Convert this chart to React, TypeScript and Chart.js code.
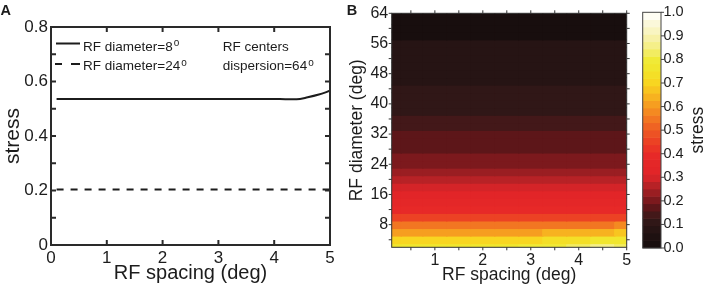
import React, { useEffect, useRef } from 'react';
import { Chart, registerables } from 'chart.js';

Chart.register(...registerables);

const FONT = '"Liberation Sans", Arial, Helvetica, sans-serif';
const INK = '#1c1c1c';

// ---------- Panel A data ----------
const spacingA = [0.1, 0.5, 1, 1.5, 2, 2.5, 3, 3.5, 4, 4.2, 4.4, 4.6, 4.8, 5];
const stressDiam8 = [0.536, 0.536, 0.536, 0.536, 0.536, 0.536, 0.536, 0.536, 0.536, 0.535, 0.535, 0.542, 0.552, 0.566];
const stressDiam24 = [0.204, 0.204, 0.204, 0.204, 0.204, 0.204, 0.204, 0.204, 0.204, 0.204, 0.204, 0.204, 0.204, 0.204];
const xTicksA = [0, 1, 2, 3, 4, 5];
const yTicksA = [0, 0.1, 0.2, 0.3, 0.4, 0.5, 0.6, 0.7, 0.8];
const yLabelsA = ['0', '', '0.2', '', '0.4', '', '0.6', '', '0.8'];
const legendLabelsA = ['RF diameter=8', 'RF diameter=24'];
const noteLinesA = ['RF centers', 'dispersion=64'];

// ---------- Panel B data ----------
const spacingB = [0.1, 0.5, 1, 1.5, 2, 2.5, 3, 3.5, 4, 4.5, 5];
const diameterB = [2, 4, 6, 8, 10, 12, 14, 16, 18, 20, 22, 24, 26, 28, 30, 32, 34, 36, 38, 40, 42, 44, 46, 48, 50, 52, 54, 56, 58, 60, 62, 64];
const stressByDiameter = [0.78, 0.7, 0.62, 0.536, 0.45, 0.4, 0.36, 0.33, 0.285, 0.255, 0.23, 0.205, 0.195, 0.185, 0.17, 0.16, 0.14, 0.13, 0.115, 0.11, 0.105, 0.1, 0.09, 0.085, 0.08, 0.075, 0.072, 0.07, 0.03, 0.03, 0.025, 0.02];
// rows that vary with spacing (small diameters)
const stressD2 = [0.78, 0.78, 0.78, 0.78, 0.78, 0.78, 0.79, 0.8, 0.82, 0.86, 0.82];
const stressD4 = [0.7, 0.7, 0.7, 0.7, 0.7, 0.7, 0.71, 0.72, 0.74, 0.76, 0.78];
const stressD6 = [0.62, 0.62, 0.62, 0.62, 0.62, 0.62, 0.62, 0.63, 0.64, 0.65, 0.68];
const stressD8 = [0.536, 0.536, 0.536, 0.536, 0.536, 0.536, 0.536, 0.536, 0.536, 0.543, 0.566];
const xTicksB = [0.5, 1, 1.5, 2, 2.5, 3, 3.5, 4, 4.5, 5];
const yTicksB = [4, 8, 12, 16, 20, 24, 28, 32, 36, 40, 44, 48, 52, 56, 60, 64];
const cbarTicks = [0, 0.1, 0.2, 0.3, 0.4, 0.5, 0.6, 0.7, 0.8, 0.9, 1];

// colormap (hot-like)
const cmapPos = [0, 0.05, 0.1, 0.13, 0.16, 0.19, 0.22, 0.25, 0.28, 0.31, 0.4, 0.45, 0.5, 0.55, 0.6, 0.65, 0.7, 0.75, 0.8, 0.85, 0.9, 0.95, 1];
const cmapHex = ['#150d0d', '#1f1111', '#2c1616', '#3a1919', '#521618', '#6e161a', '#8e1c20', '#a82024', '#c42428', '#e02428', '#e82a28', '#ec4024', '#ee5a24', '#f27822', '#f59820', '#f8b820', '#f8d520', '#f2e42a', '#f0ea38', '#f4ee80', '#f8f2b0', '#fbf8d8', '#ffffff'];
const CMAP_LEVELS = 32;

const overrideRows: Record<number, number[]> = { 2: stressD2, 4: stressD4, 6: stressD6, 8: stressD8 };
const gridB = diameterB.map((d, j) => spacingB.map((_, i) => (overrideRows[d] ? overrideRows[d][i] : stressByDiameter[j])));

function hexToRgb(h: string) {
  const n = parseInt(h.slice(1), 16);
  return [(n >> 16) & 255, (n >> 8) & 255, n & 255];
}
function cmapAt(t: number) {
  for (let i = 1; i < cmapPos.length; i++) {
    if (t <= cmapPos[i]) {
      const f = (t - cmapPos[i - 1]) / (cmapPos[i] - cmapPos[i - 1]);
      const a = hexToRgb(cmapHex[i - 1]);
      const b = hexToRgb(cmapHex[i]);
      const c = a.map((v, k) => Math.round(v + (b[k] - v) * f));
      return `rgb(${c[0]},${c[1]},${c[2]})`;
    }
  }
  return cmapHex[cmapHex.length - 1];
}
const levelColors = Array.from({ length: CMAP_LEVELS }, (_, k) => cmapAt((k + 0.5) / CMAP_LEVELS));
function colorFor(v: number) {
  const k = Math.max(0, Math.min(CMAP_LEVELS - 1, Math.floor(v * CMAP_LEVELS)));
  return levelColors[k];
}
function edges(vals: number[], lo: number, hi: number) {
  return vals.map((v, i) => [i === 0 ? lo : (vals[i - 1] + v) / 2, i === vals.length - 1 ? hi : (v + vals[i + 1]) / 2]);
}

function framePlugin(inward: boolean, len: number, lw: number, color: string) {
  return {
    id: 'frameTicks',
    afterDraw(chart: any) {
      const { ctx, chartArea: a, scales } = chart;
      const d = inward ? len : -len;
      ctx.save();
      ctx.strokeStyle = color;
      ctx.lineWidth = lw;
      ctx.beginPath();
      const xs = scales.x;
      const ys = scales.y;
      for (const t of xs.ticks) {
        const p = xs.getPixelForValue(t.value);
        ctx.moveTo(p, a.bottom);
        ctx.lineTo(p, a.bottom - d);
        ctx.moveTo(p, a.top);
        ctx.lineTo(p, a.top + d);
      }
      for (const t of ys.ticks) {
        const p = ys.getPixelForValue(t.value);
        ctx.moveTo(a.left, p);
        ctx.lineTo(a.left + d, p);
        ctx.moveTo(a.right, p);
        ctx.lineTo(a.right - d, p);
      }
      ctx.stroke();
      ctx.strokeRect(a.left, a.top, a.right - a.left, a.bottom - a.top);
      ctx.restore();
    },
  };
}

const legendPluginA = {
  id: 'legendA',
  afterDraw(chart: any) {
    const { ctx, chartArea: a } = chart;
    ctx.save();
    ctx.fillStyle = INK;
    ctx.strokeStyle = INK;
    ctx.lineWidth = 2;
    ctx.font = `bold 14.5px ${FONT}`;
    ctx.textBaseline = 'alphabetic';
    ctx.fillText('A', 0.5, 15);
    ctx.beginPath();
    ctx.moveTo(a.left + 5, a.top + 16.5);
    ctx.lineTo(a.left + 29, a.top + 16.5);
    ctx.moveTo(a.left + 4, a.top + 37);
    ctx.lineTo(a.left + 11, a.top + 37);
    ctx.moveTo(a.left + 20, a.top + 37);
    ctx.lineTo(a.left + 29, a.top + 37);
    ctx.stroke();
    const sup = (text: string, x: number, y: number) => {
      ctx.font = `13.5px ${FONT}`;
      ctx.fillText(text, x, y);
      const w = ctx.measureText(text).width;
      ctx.font = `10px ${FONT}`;
      ctx.fillText('o', x + w + 1, y - 4.5);
    };
    sup(legendLabelsA[0], a.left + 32, a.top + 23.5);
    sup(legendLabelsA[1], a.left + 32, a.top + 43);
    ctx.font = `13.5px ${FONT}`;
    ctx.fillText(noteLinesA[0], a.left + 171.7, a.top + 23.5);
    sup(noteLinesA[1], a.left + 171.7, a.top + 43);
    ctx.restore();
  },
};

const heatPluginB = {
  id: 'heatB',
  beforeDatasetsDraw(chart: any) {
    const { ctx, chartArea: a, scales } = chart;
    const xs = scales.x;
    const ys = scales.y;
    const xe = edges(spacingB, 0.1, 5);
    const ye = edges(diameterB, 2, 64);
    ctx.save();
    ctx.beginPath();
    ctx.rect(a.left, a.top, a.right - a.left, a.bottom - a.top);
    ctx.clip();
    gridB.forEach((row, j) => {
      row.forEach((v, i) => {
        const x0 = xs.getPixelForValue(xe[i][0]);
        const x1 = xs.getPixelForValue(xe[i][1]);
        const y0 = ys.getPixelForValue(ye[j][1]);
        const y1 = ys.getPixelForValue(ye[j][0]);
        ctx.fillStyle = colorFor(v);
        ctx.fillRect(x0 - 0.6, y0 - 0.6, x1 - x0 + 1.2, y1 - y0 + 1.2);
      });
    });
    ctx.restore();
    ctx.save();
    ctx.fillStyle = INK;
    ctx.font = `bold 14.5px ${FONT}`;
    ctx.fillText('B', 6.7, 15);
    ctx.restore();
  },
};

const cbarPlugin = {
  id: 'cbar',
  beforeDatasetsDraw(chart: any) {
    const { ctx, chartArea: a, scales } = chart;
    const ys = scales.y;
    ctx.save();
    for (let k = 0; k < CMAP_LEVELS; k++) {
      const y0 = ys.getPixelForValue((k + 1) / CMAP_LEVELS);
      const y1 = ys.getPixelForValue(k / CMAP_LEVELS);
      ctx.fillStyle = levelColors[k];
      ctx.fillRect(a.left, y0 - 0.3, a.right - a.left, y1 - y0 + 0.6);
    }
    ctx.restore();
  },
  afterDraw(chart: any) {
    const { ctx, chartArea: a, scales } = chart;
    const ys = scales.y;
    ctx.save();
    ctx.strokeStyle = '#444';
    ctx.lineWidth = 1;
    ctx.strokeRect(a.left, a.top, a.right - a.left, a.bottom - a.top);
    ctx.beginPath();
    for (const t of ys.ticks) {
      const p = ys.getPixelForValue(t.value);
      ctx.moveTo(a.right, p);
      ctx.lineTo(a.right + 3, p);
    }
    ctx.stroke();
    ctx.fillStyle = INK;
    ctx.font = `17.5px ${FONT}`;
    ctx.textAlign = 'center';
    ctx.textBaseline = 'middle';
    ctx.translate(62, (a.top + a.bottom) / 2);
    ctx.rotate(-Math.PI / 2);
    ctx.fillText('stress', 0, 0);
    ctx.restore();
  },
};

export default function App() {
  const refA = useRef<HTMLCanvasElement>(null);
  const refB = useRef<HTMLCanvasElement>(null);
  const refC = useRef<HTMLCanvasElement>(null);

  useEffect(() => {
    const charts: Chart[] = [];
    const tickFont = (size: number) => ({ family: FONT, size });

    charts.push(
      new Chart(refA.current as HTMLCanvasElement, {
        type: 'line',
        data: {
          datasets: [
            {
              data: spacingA.map((x, i) => ({ x, y: stressDiam8[i] })),
              borderColor: INK,
              borderWidth: 2,
              pointRadius: 0,
              fill: false,
              cubicInterpolationMode: 'monotone',
            },
            {
              data: spacingA.map((x, i) => ({ x, y: stressDiam24[i] })),
              borderColor: INK,
              borderWidth: 2,
              borderDash: [7, 7],
              pointRadius: 0,
              fill: false,
            },
          ],
        },
        options: {
          responsive: false,
          animation: false,
          devicePixelRatio: 1,
          layout: { padding: { top: 27, right: 20, left: 0, bottom: 0 } },
          plugins: { legend: { display: false }, tooltip: { enabled: false } },
          scales: {
            x: {
              type: 'linear',
              min: 0,
              max: 5,
              afterBuildTicks: (s: any) => {
                s.ticks = xTicksA.map((v) => ({ value: v }));
              },
              afterFit: (s: any) => {
                s.height = 45;
              },
              grid: { display: false, drawTicks: false },
              border: { display: false },
              ticks: { font: tickFont(17), color: INK, padding: 3, maxRotation: 0, autoSkip: false, callback: (v: any) => String(v) },
              title: { display: true, text: 'RF spacing (deg)', font: { family: FONT, size: 20 }, color: INK, padding: { top: 0, bottom: 5 } },
            },
            y: {
              type: 'linear',
              min: 0,
              max: 0.8,
              afterBuildTicks: (s: any) => {
                s.ticks = yTicksA.map((v) => ({ value: v }));
              },
              afterFit: (s: any) => {
                s.width = 51;
              },
              grid: { display: false, drawTicks: false },
              border: { display: false },
              ticks: { font: tickFont(17), color: INK, padding: 3, autoSkip: false, callback: (_v: any, i: number) => yLabelsA[i] },
              title: { display: true, text: 'stress', font: { family: FONT, size: 21 }, color: INK, padding: { top: 1, bottom: 0 } },
            },
          },
        },
        plugins: [framePlugin(true, 5, 2, '#2a2a2a'), legendPluginA],
      } as any)
    );

    charts.push(
      new Chart(refB.current as HTMLCanvasElement, {
        type: 'scatter',
        data: { datasets: [{ data: [] }] },
        options: {
          responsive: false,
          animation: false,
          devicePixelRatio: 1,
          layout: { padding: { top: 13.3, right: 9.3, left: 0, bottom: 0 } },
          plugins: { legend: { display: false }, tooltip: { enabled: false } },
          scales: {
            x: {
              type: 'linear',
              min: 0.1,
              max: 5,
              afterBuildTicks: (s: any) => {
                s.ticks = xTicksB.map((v) => ({ value: v }));
              },
              afterFit: (s: any) => {
                s.height = 42.7;
              },
              grid: { display: false, drawTicks: false },
              border: { display: false },
              ticks: { font: tickFont(16), color: INK, padding: 3.5, maxRotation: 0, autoSkip: false, callback: (v: any) => (Number.isInteger(v) ? String(v) : '') },
              title: { display: true, text: 'RF spacing (deg)', font: { family: FONT, size: 17.5 }, color: INK, padding: { top: 0, bottom: 4.5 } },
            },
            y: {
              type: 'linear',
              min: 2,
              max: 64,
              afterBuildTicks: (s: any) => {
                s.ticks = yTicksB.map((v) => ({ value: v }));
              },
              afterFit: (s: any) => {
                s.width = 51.7;
              },
              grid: { display: false, drawTicks: false },
              border: { display: false },
              ticks: { font: tickFont(16), color: INK, padding: 3.5, autoSkip: false, callback: (v: any) => (v % 8 === 0 ? String(v) : '') },
              title: { display: true, text: 'RF diameter (deg)', font: { family: FONT, size: 17.5 }, color: INK, padding: { top: 6.5, bottom: 0 } },
            },
          },
        },
        plugins: [heatPluginB, framePlugin(false, 3, 1, '#333')],
      } as any)
    );

    charts.push(
      new Chart(refC.current as HTMLCanvasElement, {
        type: 'scatter',
        data: { datasets: [] },
        options: {
          responsive: false,
          animation: false,
          devicePixelRatio: 1,
          layout: { padding: { top: 12.3, right: 0, left: 6.7, bottom: 42 } },
          plugins: { legend: { display: false }, tooltip: { enabled: false } },
          scales: {
            x: { type: 'linear', display: false, min: 0, max: 1 },
            y: {
              type: 'linear',
              position: 'right',
              min: 0,
              max: 1,
              afterBuildTicks: (s: any) => {
                s.ticks = cbarTicks.map((v) => ({ value: v }));
              },
              afterFit: (s: any) => {
                s.width = 47;
              },
              grid: { display: false, drawTicks: false },
              border: { display: false },
              ticks: { font: tickFont(14.5), color: INK, padding: 2.5, autoSkip: false, callback: (v: any) => Number(v).toFixed(1) },
            },
          },
        },
        plugins: [cbarPlugin],
      } as any)
    );

    return () => charts.forEach((c) => c.destroy());
  }, []);

  return (
    <div style={{ position: 'absolute', left: 0, top: 0, width: 708, height: 290, background: '#fff' }}>
      <canvas ref={refA} width={350} height={290} style={{ position: 'absolute', left: 0, top: 0 }} />
      <canvas ref={refB} width={296} height={290} style={{ position: 'absolute', left: 340, top: 0 }} />
      <canvas ref={refC} width={72} height={290} style={{ position: 'absolute', left: 636, top: 0 }} />
    </div>
  );
}
